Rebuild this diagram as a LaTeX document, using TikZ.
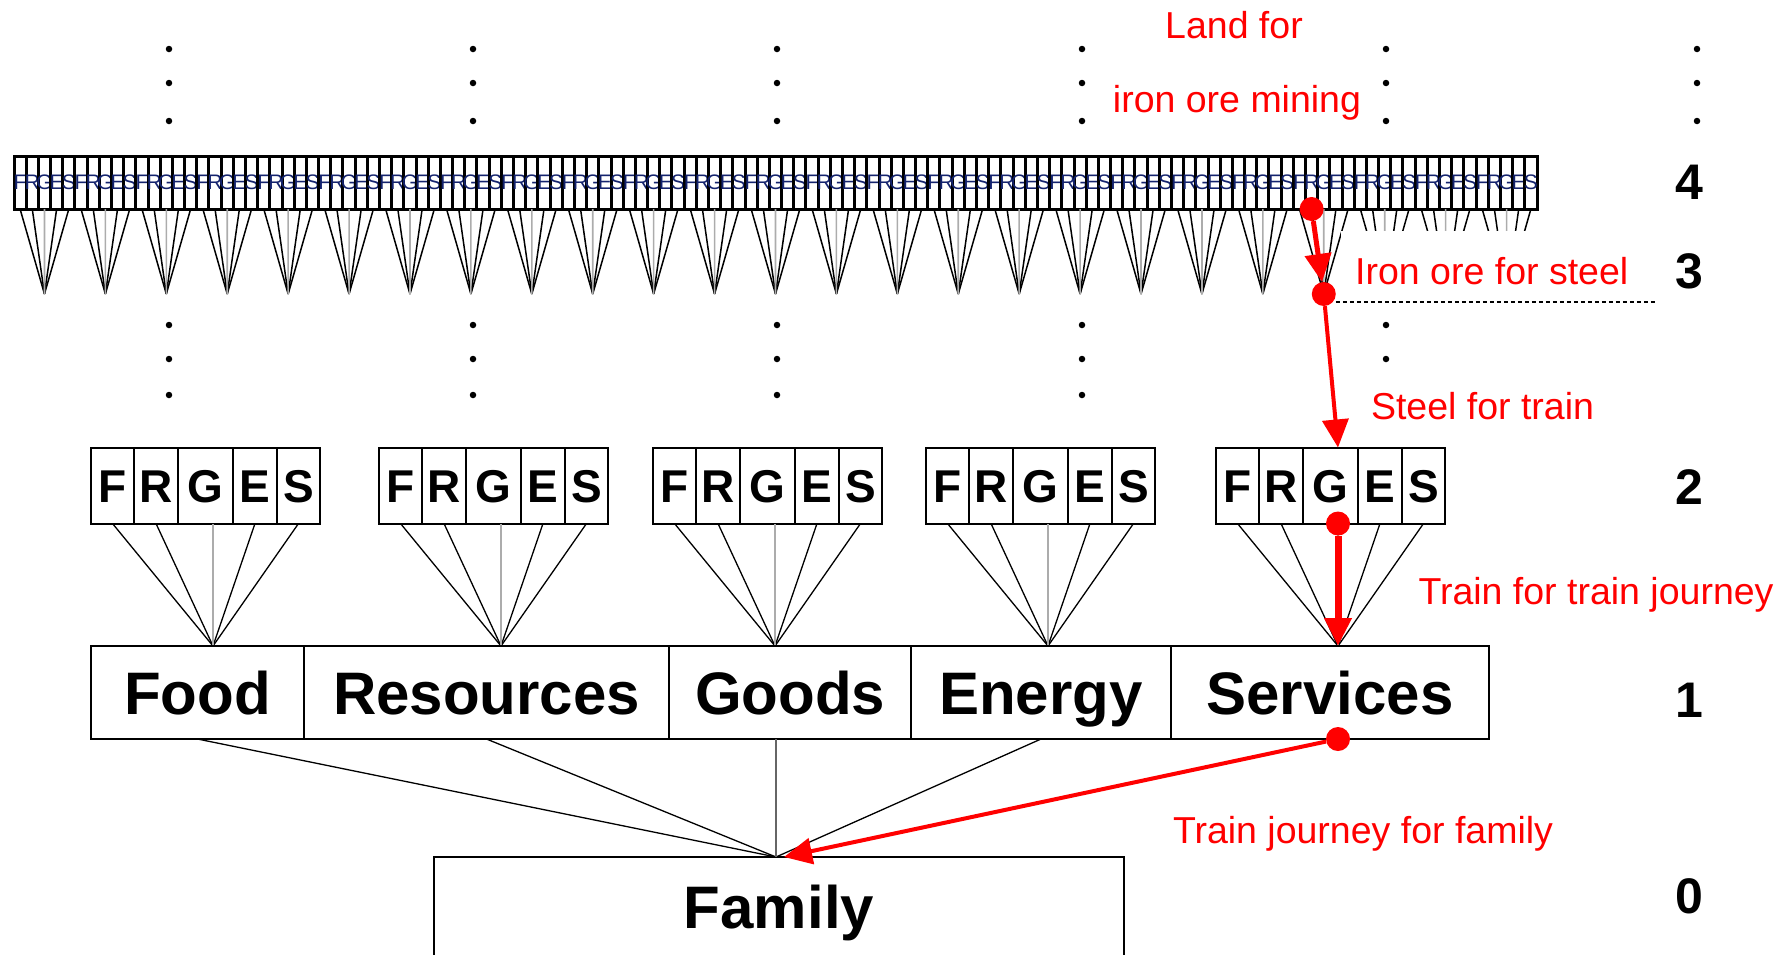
\documentclass[tikz,border=0pt]{standalone}
\usepackage{fontspec}
\setmainfont{Liberation Sans}
\usetikzlibrary{arrows.meta, positioning}

\definecolor{tinyblue}{RGB}{20,35,110}

\tikzset{
  lvlbox/.style={draw, line width=2pt, minimum height=93pt, inner sep=0pt, outer sep=0pt,
    text height=43pt, text depth=0pt, font=\fontsize{60}{60}\selectfont\bfseries},
  cellbig/.style={draw, line width=2pt, minimum height=76pt, inner sep=0pt, outer sep=0pt,
    text height=33pt, text depth=0pt, font=\fontsize{46}{46}\selectfont\bfseries},
  cellsmall/.style={draw, line width=3pt, minimum width=12.184pt, minimum height=53pt,
    inner sep=0pt, outer sep=0pt, text=tinyblue, font=\fontsize{21}{21}\selectfont},
  fan/.style={line width=1.3pt},
  fantiny/.style={line width=1.5pt},
  fanmid/.style={line width=1.6pt, gray!65},
  redlbl/.style={text=red, fill=white, text height=28pt, text depth=8pt,
    font=\fontsize{37.5}{40}\selectfont},
  lvlnum/.style={font=\fontsize{50}{50}\selectfont\bfseries},
  pathline/.style={red, line width=4pt, -{Triangle[length=28pt,width=26pt]}},
  pathdot/.style={circle, fill=red, inner sep=0pt, minimum size=24pt},
  vdot/.style={circle, fill=black, inner sep=0pt, minimum size=6.5pt},
  dashline/.style={line width=1.3pt, dash pattern=on 4pt off 3pt},
}

\begin{document}
\begin{tikzpicture}[x=1pt, y=-1pt]
  \useasboundingbox (0,0) rectangle (1786,954);
  \clip (0,0) rectangle (1786,954);

  % vertical dots between the levels
  \foreach \x [count=\i] in {169,473,777,1082,1386,1697}
    \foreach \y [count=\j] in {49,83,121}
      \node[vdot] (t\i-\j) at (\x,\y) {};
  \foreach \x [count=\i] in {169,473,777,1082,1386}
    \foreach \y [count=\j] in {325,359,395}
      \node[vdot] (m\i-\j) at (\x,\y) {};

  % level 4: 25 groups of tiny cells, each fanning down to level 3
  \foreach \g in {0,...,24} {
    \foreach \l [count=\k from 0] in {F,R,G,E,S}
      \node[cellsmall] (c\g-\k) at ({14+60.92*\g+12.184*(\k+0.5)},182.5) {\makebox[0pt]{\l}};
    \coordinate (a\g) at ({14+60.92*(\g+0.5)},294);
    \foreach \k in {0,1,3,4}
      \draw[fantiny] (c\g-\k.south) -- (a\g);
    \draw[fanmid] (c\g-2.south) -- (a\g);
  }

  % level 2: five groups F R G E S
  \foreach \gx [count=\gi] in {91,379,653,926,1216} {
    \foreach \l/\w/\o in {F/43/21.5,R/44/65,G/55/114.5,E/44/164,S/43/207.5}
      \node[cellbig, minimum width=\w pt] (b\gi\l) at ({\gx+\o},485.5) {\l};
    \coordinate (p\gi) at ({\gx+122},646);
    \foreach \l in {F,R,E,S}
      \draw[fan] (b\gi\l.south) -- (p\gi);
    \draw[fanmid] (p\gi) -- (p\gi |- b\gi G.south);
  }

  % level 1
  \node[lvlbox, minimum width=213pt] (food) at (197.5,692.5) {Food};
  \node[lvlbox, minimum width=365pt, right=0pt of food] (res) {Resources};
  \node[lvlbox, minimum width=242pt, right=0pt of res] (goods) {Goods};
  \node[lvlbox, minimum width=260pt, right=0pt of goods] (energy) {Energy};
  \node[lvlbox, minimum width=318pt, right=0pt of energy] (serv) {Services};

  % level 0
  \node[lvlbox, minimum width=690pt, minimum height=100pt, anchor=north] (fam) at (779,857) {Family};
  \coordinate (famtop) at (776,857);
  \coordinate (famred) at (784,857);
  \foreach \b in {food,res,energy}
    \draw[fan] (\b.south) -- (famtop);
  \draw[fan, black!60] (famtop) -- (famtop |- goods.south);

  % level numbers
  \node[lvlnum] (n4) at (1689,182) {4};
  \node[lvlnum] (n3) at (1689,271) {3};
  \node[lvlnum] (n2) at (1689,487) {2};
  \node[lvlnum] (n1) at (1689,700) {1};
  \node[lvlnum] (n0) at (1689,896) {0};

  % labels
  \node[redlbl] (lland) at (1234,28) {Land for};
  \node[redlbl] (liron) at (1237,102) {iron ore mining};
  \node[redlbl, anchor=base west, inner ysep=0pt, inner xsep=14pt, text height=53pt, text depth=17pt]
    (lore) at (1341,284) {Iron ore for steel};
  \node[redlbl] (lsteel) at (1482.5,409) {Steel for train};
  \node[redlbl] (ltrain) at (1596,594) {Train for train journey};
  \node[redlbl] (ljourney) at (1363,833) {Train journey for family};

  % red path
  \node[pathdot] (r4) at (c21-1.south) {};
  \node[pathdot] (r3) at (a21) {};
  \coordinate (l3end) at (1657,302);
  \draw[dashline] (r3.east |- l3end) -- (l3end);
  \draw[pathline, line width=5pt] (r4) -- (r3);
  \draw[pathline] (r3) -- (p5 |- b5G.north);
  \node[pathdot] (r2) at (p5 |- b5G.south) {};
  \draw[pathline, line width=7pt] (r2) -- (p5);
  \node[pathdot] (r1) at (p5 |- serv.south) {};
  \draw[pathline] (r1) -- (famred);
\end{tikzpicture}
\end{document}
